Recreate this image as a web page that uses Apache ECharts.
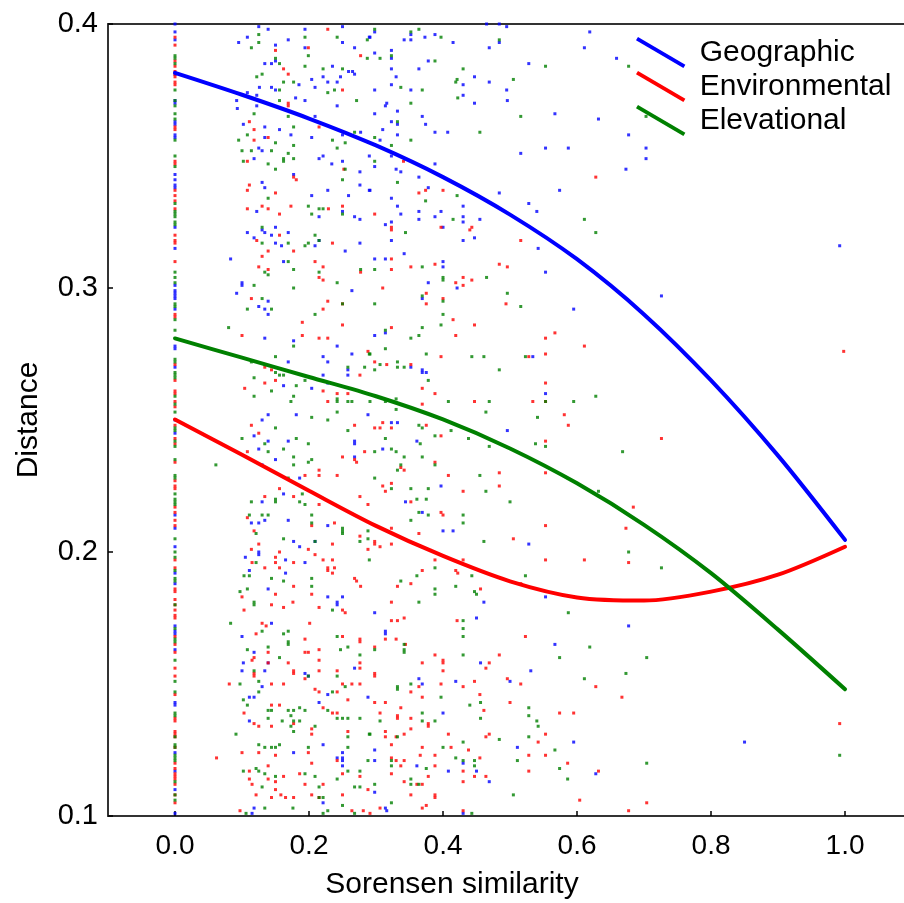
<!DOCTYPE html>
<html><head><meta charset="utf-8">
<script src="https://cdn.jsdelivr.net/npm/echarts@6/dist/echarts.min.js"></script>
<style>html,body{margin:0;padding:0;background:#fff}#c{width:904px;height:903px}</style>
</head><body><div id="c"></div>
<script>
const seriesNames = ['Geographic','Environmental','Elevational'];
const seriesColors = ['#0000ff','#ff0000','#008000'];
const xTickValues = [0,0.2,0.4,0.6,0.8,1.0];
const fitX = [0,0.1,0.2,0.3,0.4,0.5,0.6,0.7,0.8,0.9,1.0];
const geographicFit = [0.3815,0.3732,0.3642,0.3540,0.3420,0.3278,0.3109,0.2900,0.2650,0.2365,0.2046];
const environmentalFit = [0.2502,0.2368,0.2232,0.2099,0.1985,0.1889,0.1828,0.1816,0.1850,0.1914,0.2020];
const elevationalFit = [0.2809,0.2736,0.2663,0.2590,0.2502,0.2392,0.2260,0.2103,0.1920,0.1706,0.1480];

const geographicZeroY = [0.400,0.397,0.394,0.381,0.371,0.370,0.363,0.362,0.358,0.357,0.343,0.341,0.339,0.338,0.323,0.315,0.301,0.299,0.298,0.297,0.296,0.292,0.278,0.277,0.270,0.250,0.245,0.214,0.209,0.202,0.192,0.188,0.172,0.170,0.169,0.163,0.143,0.142,0.124,0.117,0.110,0.101];
const environmentalZeroY = [0.395,0.392,0.386,0.384,0.382,0.381,0.380,0.378,0.377,0.361,0.360,0.348,0.347,0.337,0.335,0.333,0.330,0.320,0.318,0.317,0.310,0.290,0.289,0.271,0.265,0.261,0.260,0.257,0.255,0.248,0.243,0.241,0.234,0.227,0.225,0.224,0.217,0.215,0.212,0.210,0.197,0.194,0.186,0.185,0.182,0.180,0.178,0.176,0.175,0.168,0.165,0.162,0.156,0.153,0.146,0.137,0.136,0.132,0.131,0.130,0.126,0.120,0.118,0.116,0.115,0.114,0.112,0.108,0.105];
const elevationalZeroY = [0.388,0.387,0.385,0.375,0.371,0.369,0.366,0.364,0.356,0.350,0.346,0.332,0.329,0.328,0.327,0.325,0.324,0.306,0.304,0.302,0.294,0.293,0.288,0.284,0.273,0.272,0.268,0.267,0.266,0.259,0.256,0.253,0.247,0.246,0.242,0.240,0.235,0.229,0.228,0.222,0.220,0.219,0.218,0.205,0.200,0.198,0.193,0.190,0.189,0.180,0.171,0.167,0.166,0.159,0.151,0.147,0.139,0.138,0.130,0.127,0.126,0.123,0.122,0.121,0.113,0.108,0.106];

const geographicPts = [[0.125,0.399],[0.139,0.398],[0.194,0.398],[0.250,0.399],[0.108,0.395],[0.095,0.393],[0.169,0.394],[0.150,0.392],[0.194,0.391],[0.250,0.393],[0.268,0.391],[0.290,0.395],[0.134,0.385],[0.144,0.385],[0.150,0.386],[0.235,0.384],[0.259,0.382],[0.265,0.382],[0.268,0.381],[0.247,0.380],[0.221,0.380],[0.204,0.379],[0.228,0.378],[0.242,0.378],[0.185,0.377],[0.144,0.376],[0.150,0.375],[0.126,0.376],[0.209,0.376],[0.108,0.374],[0.122,0.373],[0.180,0.372],[0.194,0.371],[0.092,0.371],[0.093,0.368],[0.122,0.369],[0.242,0.369],[0.209,0.365],[0.102,0.362],[0.134,0.361],[0.156,0.360],[0.173,0.358],[0.134,0.357],[0.204,0.357],[0.250,0.358],[0.277,0.359],[0.125,0.353],[0.130,0.352],[0.215,0.349],[0.221,0.350],[0.118,0.349],[0.234,0.347],[0.250,0.348],[0.290,0.350],[0.276,0.344],[0.177,0.343],[0.276,0.339],[0.130,0.340],[0.134,0.338],[0.228,0.337],[0.204,0.335],[0.259,0.335],[0.290,0.337],[0.122,0.329],[0.215,0.327],[0.250,0.329],[0.268,0.327],[0.276,0.326],[0.108,0.321],[0.130,0.322],[0.134,0.321],[0.150,0.323],[0.144,0.320],[0.169,0.321],[0.118,0.319],[0.150,0.317],[0.159,0.316],[0.209,0.316],[0.215,0.318],[0.254,0.314],[0.276,0.317],[0.083,0.311],[0.162,0.310],[0.100,0.302],
[0.291,0.395],[0.298,0.397],[0.342,0.394],[0.352,0.396],[0.352,0.394],[0.373,0.395],[0.388,0.396],[0.415,0.393],[0.465,0.400],[0.484,0.400],[0.484,0.393],[0.495,0.399],[0.469,0.391],[0.619,0.397],[0.611,0.391],[0.659,0.387],[0.298,0.389],[0.323,0.390],[0.323,0.387],[0.323,0.383],[0.330,0.380],[0.364,0.383],[0.378,0.386],[0.447,0.380],[0.469,0.378],[0.528,0.385],[0.323,0.377],[0.298,0.375],[0.352,0.375],[0.430,0.377],[0.430,0.373],[0.495,0.375],[0.496,0.371],[0.316,0.370],[0.314,0.369],[0.332,0.367],[0.447,0.370],[0.298,0.366],[0.323,0.363],[0.332,0.362],[0.369,0.365],[0.374,0.362],[0.388,0.359],[0.407,0.359],[0.310,0.360],[0.306,0.356],[0.332,0.358],[0.567,0.366],[0.632,0.364],[0.677,0.358],[0.553,0.353],[0.587,0.353],[0.516,0.351],[0.323,0.350],[0.298,0.346],[0.330,0.345],[0.337,0.344],[0.388,0.347],[0.364,0.342],[0.378,0.338],[0.291,0.337],[0.673,0.345],[0.574,0.337],[0.484,0.336],[0.323,0.334],[0.430,0.331],[0.528,0.332],[0.540,0.329],[0.332,0.331],[0.337,0.328],[0.364,0.329],[0.364,0.326],[0.388,0.327],[0.397,0.329],[0.430,0.327],[0.430,0.325],[0.455,0.326],[0.314,0.324],[0.323,0.325],[0.400,0.323],[0.323,0.318],[0.430,0.318],[0.447,0.319],[0.542,0.315],[0.342,0.313],[0.298,0.311],[0.314,0.311],[0.400,0.310],[0.400,0.308],[0.378,0.302],[0.553,0.306],
[0.703,0.353],[0.703,0.349],[0.992,0.316],[0.726,0.297],[0.850,0.128],
[0.100,0.301],[0.092,0.298],[0.139,0.295],[0.125,0.293],[0.134,0.292],[0.139,0.290],[0.264,0.299],[0.134,0.281],[0.177,0.280],[0.242,0.278],[0.264,0.275],[0.221,0.274],[0.228,0.272],[0.169,0.272],[0.258,0.269],[0.258,0.267],[0.221,0.267],[0.228,0.264],[0.162,0.263],[0.204,0.262],[0.288,0.252],[0.139,0.252],[0.130,0.250],[0.181,0.252],[0.118,0.244],[0.169,0.242],[0.139,0.242],[0.268,0.242],[0.268,0.241],[0.125,0.239],[0.150,0.235],[0.268,0.236],[0.130,0.233],[0.186,0.228],[0.162,0.222],[0.130,0.219],[0.114,0.211],[0.125,0.211],[0.134,0.212],[0.169,0.212],[0.228,0.210],[0.177,0.204],[0.186,0.202],[0.209,0.204],[0.125,0.200],
[0.369,0.296],[0.421,0.300],[0.595,0.292],[0.298,0.282],[0.314,0.283],[0.369,0.269],[0.369,0.268],[0.375,0.268],[0.352,0.270],[0.534,0.274],[0.553,0.260],[0.496,0.246],[0.332,0.249],[0.323,0.249],[0.361,0.242],[0.310,0.239],[0.397,0.225],[0.344,0.219],[0.369,0.215],[0.400,0.208],[0.415,0.208],[0.528,0.203],
[0.105,0.198],[0.125,0.199],[0.165,0.197],[0.111,0.193],[0.165,0.192],[0.194,0.196],[0.139,0.186],[0.228,0.183],[0.242,0.181],[0.242,0.180],[0.250,0.183],[0.144,0.173],[0.100,0.168],[0.118,0.162],[0.102,0.158],[0.100,0.155],[0.134,0.155],[0.139,0.158],[0.194,0.154],[0.199,0.153],[0.268,0.156],[0.130,0.149],[0.228,0.146],[0.111,0.145],[0.118,0.145],[0.215,0.143],[0.288,0.145],[0.111,0.136],[0.221,0.127],[0.177,0.124],[0.250,0.124],[0.242,0.122],[0.250,0.122],[0.250,0.121],[0.250,0.119],[0.221,0.105],[0.118,0.103],[0.115,0.101],
[0.298,0.177],[0.314,0.170],[0.314,0.169],[0.461,0.181],[0.450,0.175],[0.553,0.183],[0.677,0.172],[0.567,0.165],[0.456,0.158],[0.531,0.155],[0.364,0.152],[0.369,0.150],[0.419,0.151],[0.500,0.151],[0.400,0.139],[0.298,0.125],[0.298,0.121],[0.361,0.119],[0.408,0.117],[0.430,0.120],[0.450,0.117],[0.469,0.113],[0.511,0.126],[0.595,0.128],[0.628,0.116],[0.298,0.109],[0.314,0.103],[0.316,0.102],[0.430,0.101]];

const environmentalPts = [[0.228,0.398],[0.150,0.390],[0.199,0.391],[0.277,0.388],[0.162,0.383],[0.169,0.381],[0.250,0.375],[0.169,0.370],[0.169,0.369],[0.111,0.363],[0.118,0.360],[0.215,0.361],[0.118,0.356],[0.139,0.357],[0.108,0.348],[0.252,0.345],[0.177,0.342],[0.181,0.341],[0.111,0.339],[0.108,0.337],[0.150,0.336],[0.130,0.331],[0.173,0.331],[0.108,0.330],[0.139,0.330],[0.156,0.328],[0.229,0.330],[0.250,0.331],[0.156,0.320],[0.122,0.318],[0.139,0.314],[0.177,0.314],[0.235,0.317],[0.130,0.312],[0.125,0.308],[0.139,0.307],[0.209,0.310],[0.221,0.308],[0.215,0.304],[0.221,0.303],[0.277,0.306],
[0.341,0.348],[0.628,0.342],[0.364,0.336],[0.374,0.337],[0.400,0.337],[0.298,0.328],[0.323,0.323],[0.323,0.322],[0.397,0.323],[0.440,0.322],[0.443,0.323],[0.516,0.318],[0.323,0.311],[0.323,0.307],[0.352,0.308],[0.388,0.309],[0.484,0.309],[0.496,0.308],[0.430,0.304],[0.419,0.302],[0.443,0.303],
[0.998,0.276],[0.726,0.243],[0.992,0.135],[0.704,0.105],
[0.114,0.296],[0.228,0.295],[0.250,0.294],[0.221,0.292],[0.190,0.287],[0.250,0.286],[0.100,0.282],[0.190,0.282],[0.215,0.281],[0.228,0.281],[0.288,0.276],[0.134,0.270],[0.144,0.269],[0.276,0.267],[0.150,0.265],[0.134,0.264],[0.104,0.262],[0.221,0.261],[0.228,0.257],[0.242,0.260],[0.258,0.260],[0.114,0.248],[0.125,0.245],[0.268,0.248],[0.283,0.238],[0.108,0.238],[0.250,0.236],[0.268,0.235],[0.271,0.234],[0.215,0.231],[0.194,0.229],[0.215,0.229],[0.242,0.229],[0.156,0.224],[0.177,0.221],[0.134,0.221],[0.215,0.218],[0.276,0.221],[0.288,0.218],[0.108,0.213],[0.118,0.208],[0.204,0.210],[0.238,0.211],[0.276,0.206],[0.288,0.201],[0.114,0.201],[0.125,0.203],[0.156,0.200],[0.199,0.201],[0.235,0.203],
[0.310,0.300],[0.375,0.298],[0.430,0.301],[0.400,0.296],[0.375,0.294],[0.494,0.294],[0.415,0.288],[0.447,0.286],[0.323,0.285],[0.419,0.282],[0.567,0.283],[0.553,0.281],[0.611,0.278],[0.397,0.274],[0.528,0.274],[0.553,0.275],[0.298,0.272],[0.316,0.271],[0.352,0.271],[0.553,0.264],[0.369,0.262],[0.388,0.260],[0.447,0.257],[0.369,0.256],[0.534,0.257],[0.553,0.257],[0.581,0.252],[0.587,0.248],[0.310,0.249],[0.298,0.247],[0.306,0.247],[0.323,0.247],[0.375,0.248],[0.397,0.244],[0.553,0.242],[0.388,0.234],[0.337,0.232],[0.342,0.231],[0.408,0.229],[0.484,0.230],[0.553,0.230],[0.310,0.225],[0.314,0.223],[0.323,0.226],[0.484,0.225],[0.430,0.223],[0.352,0.219],[0.397,0.215],[0.400,0.214],[0.684,0.217],[0.673,0.209],[0.323,0.209],[0.553,0.210],[0.364,0.207],[0.505,0.205],[0.323,0.203],[0.298,0.204],[0.298,0.203],[0.306,0.202],
[0.115,0.196],[0.134,0.194],[0.150,0.198],[0.150,0.196],[0.156,0.194],[0.177,0.196],[0.209,0.199],[0.221,0.197],[0.235,0.197],[0.228,0.194],[0.228,0.193],[0.238,0.194],[0.235,0.192],[0.268,0.190],[0.271,0.189],[0.277,0.187],[0.100,0.183],[0.150,0.184],[0.177,0.187],[0.176,0.181],[0.144,0.180],[0.162,0.179],[0.204,0.184],[0.215,0.179],[0.250,0.178],[0.254,0.177],[0.103,0.178],[0.130,0.173],[0.136,0.172],[0.121,0.169],[0.201,0.173],[0.194,0.167],[0.250,0.168],[0.276,0.167],[0.276,0.166],[0.215,0.163],[0.194,0.162],[0.199,0.162],[0.118,0.160],[0.139,0.162],[0.115,0.159],[0.139,0.158],[0.169,0.158],[0.215,0.159],[0.276,0.158],[0.118,0.154],[0.118,0.153],[0.177,0.155],[0.177,0.154],[0.215,0.155],[0.242,0.155],[0.276,0.156],[0.194,0.152],[0.081,0.150],[0.144,0.150],[0.162,0.150],[0.250,0.150],[0.264,0.150],[0.276,0.150],[0.209,0.148],[0.215,0.147],[0.242,0.147],[0.258,0.144],[0.103,0.139],[0.144,0.142],[0.156,0.142],[0.221,0.141],[0.235,0.139],[0.242,0.139],[0.118,0.135],[0.125,0.134],[0.144,0.134],[0.177,0.135],[0.204,0.133],[0.204,0.131],[0.258,0.132],[0.062,0.122],[0.100,0.124],[0.125,0.124],[0.150,0.123],[0.199,0.124],[0.204,0.120],[0.242,0.121],[0.139,0.119],[0.111,0.117],[0.186,0.116],[0.111,0.114],[0.115,0.112],[0.139,0.114],[0.150,0.113],[0.162,0.115],[0.194,0.112],[0.221,0.112],[0.250,0.116],[0.276,0.115],[0.288,0.110],[0.150,0.110],[0.121,0.108],[0.144,0.107],[0.158,0.108],[0.165,0.107],[0.177,0.107],[0.204,0.108],[0.215,0.107],[0.250,0.108],[0.264,0.102],[0.097,0.102],[0.281,0.102],
[0.388,0.197],[0.430,0.197],[0.553,0.197],[0.611,0.197],[0.677,0.196],[0.369,0.193],[0.419,0.193],[0.422,0.192],[0.332,0.187],[0.352,0.188],[0.456,0.186],[0.516,0.188],[0.323,0.181],[0.323,0.174],[0.332,0.174],[0.342,0.175],[0.421,0.174],[0.523,0.168],[0.314,0.167],[0.330,0.167],[0.344,0.165],[0.298,0.164],[0.388,0.161],[0.369,0.158],[0.400,0.159],[0.400,0.158],[0.400,0.155],[0.469,0.158],[0.484,0.161],[0.464,0.156],[0.298,0.154],[0.298,0.153],[0.364,0.149],[0.352,0.147],[0.397,0.150],[0.447,0.151],[0.496,0.152],[0.516,0.150],[0.628,0.149],[0.667,0.145],[0.369,0.145],[0.430,0.149],[0.455,0.146],[0.500,0.143],[0.298,0.143],[0.314,0.143],[0.337,0.141],[0.461,0.140],[0.306,0.139],[0.332,0.138],[0.332,0.137],[0.574,0.139],[0.595,0.139],[0.352,0.137],[0.352,0.133],[0.378,0.135],[0.378,0.134],[0.314,0.132],[0.314,0.130],[0.330,0.130],[0.342,0.131],[0.408,0.131],[0.464,0.130],[0.469,0.131],[0.553,0.131],[0.542,0.128],[0.323,0.127],[0.369,0.126],[0.412,0.126],[0.438,0.125],[0.366,0.123],[0.388,0.123],[0.455,0.122],[0.528,0.123],[0.553,0.123],[0.586,0.120],[0.323,0.122],[0.342,0.121],[0.330,0.121],[0.337,0.119],[0.388,0.119],[0.430,0.117],[0.528,0.117],[0.632,0.117],[0.323,0.116],[0.378,0.115],[0.447,0.115],[0.464,0.115],[0.342,0.113],[0.361,0.112],[0.369,0.112],[0.430,0.113],[0.352,0.108],[0.388,0.108],[0.388,0.107],[0.375,0.104],[0.369,0.103],[0.306,0.103],[0.604,0.106],[0.677,0.102],[0.430,0.102],[0.291,0.101]];

const elevationalPts = [[0.125,0.396],[0.114,0.391],[0.125,0.393],[0.194,0.395],[0.242,0.395],[0.287,0.394],[0.287,0.387],[0.150,0.387],[0.156,0.385],[0.199,0.388],[0.194,0.384],[0.221,0.383],[0.250,0.383],[0.122,0.380],[0.130,0.381],[0.162,0.378],[0.177,0.378],[0.156,0.375],[0.228,0.374],[0.238,0.375],[0.271,0.371],[0.156,0.371],[0.118,0.366],[0.169,0.365],[0.177,0.361],[0.108,0.358],[0.095,0.356],[0.150,0.355],[0.235,0.356],[0.254,0.355],[0.268,0.359],[0.177,0.354],[0.100,0.352],[0.114,0.352],[0.144,0.352],[0.169,0.351],[0.162,0.349],[0.177,0.349],[0.242,0.353],[0.102,0.348],[0.139,0.347],[0.162,0.348],[0.254,0.345],[0.150,0.345],[0.250,0.341],[0.139,0.334],[0.199,0.331],[0.204,0.328],[0.215,0.330],[0.221,0.330],[0.250,0.328],[0.130,0.323],[0.209,0.320],[0.215,0.318],[0.130,0.317],[0.169,0.317],[0.194,0.316],[0.199,0.317],[0.169,0.310],[0.134,0.306],[0.139,0.305],[0.177,0.307],[0.215,0.306],[0.242,0.302],[0.277,0.307],
[0.298,0.398],[0.352,0.397],[0.364,0.398],[0.397,0.395],[0.484,0.394],[0.306,0.387],[0.323,0.388],[0.388,0.386],[0.430,0.383],[0.553,0.384],[0.677,0.384],[0.421,0.379],[0.419,0.378],[0.505,0.379],[0.337,0.376],[0.369,0.375],[0.422,0.372],[0.352,0.370],[0.516,0.365],[0.332,0.363],[0.455,0.359],[0.298,0.357],[0.323,0.354],[0.352,0.356],[0.298,0.348],[0.332,0.340],[0.421,0.335],[0.374,0.333],[0.415,0.326],[0.611,0.326],[0.628,0.321],[0.344,0.321],[0.298,0.307],[0.369,0.308],[0.400,0.304],[0.400,0.303],[0.465,0.304],
[0.703,0.365],[0.726,0.194],[0.704,0.160],[0.992,0.123],[0.704,0.120],
[0.118,0.301],[0.177,0.300],[0.130,0.296],[0.144,0.292],[0.108,0.292],[0.250,0.294],[0.209,0.290],[0.080,0.285],[0.177,0.278],[0.290,0.275],[0.150,0.274],[0.114,0.272],[0.258,0.270],[0.162,0.267],[0.156,0.267],[0.150,0.268],[0.181,0.263],[0.194,0.265],[0.283,0.270],[0.118,0.266],[0.144,0.261],[0.177,0.259],[0.118,0.259],[0.173,0.257],[0.242,0.258],[0.242,0.257],[0.258,0.257],[0.264,0.257],[0.242,0.253],[0.228,0.250],[0.204,0.251],[0.150,0.247],[0.258,0.246],[0.100,0.243],[0.134,0.241],[0.181,0.243],[0.199,0.241],[0.139,0.238],[0.162,0.239],[0.177,0.236],[0.177,0.233],[0.199,0.234],[0.204,0.235],[0.061,0.233],[0.169,0.228],[0.190,0.222],[0.150,0.220],[0.150,0.219],[0.114,0.219],[0.186,0.219],[0.194,0.218],[0.111,0.214],[0.130,0.214],[0.139,0.214],[0.204,0.214],[0.250,0.209],[0.250,0.208],[0.250,0.207],[0.121,0.207],[0.204,0.211],[0.288,0.208],[0.162,0.205],[0.209,0.204],[0.276,0.204],[0.288,0.205],
[0.298,0.294],[0.369,0.297],[0.400,0.295],[0.496,0.298],[0.516,0.293],[0.400,0.290],[0.397,0.286],[0.369,0.285],[0.314,0.284],[0.352,0.281],[0.364,0.282],[0.314,0.277],[0.291,0.275],[0.375,0.275],[0.443,0.274],[0.461,0.274],[0.523,0.274],[0.306,0.271],[0.332,0.272],[0.332,0.270],[0.342,0.270],[0.298,0.269],[0.484,0.269],[0.378,0.265],[0.595,0.257],[0.628,0.259],[0.408,0.257],[0.469,0.257],[0.464,0.253],[0.553,0.257],[0.291,0.257],[0.330,0.258],[0.314,0.257],[0.330,0.254],[0.541,0.251],[0.369,0.247],[0.364,0.248],[0.412,0.246],[0.388,0.244],[0.438,0.243],[0.314,0.243],[0.366,0.241],[0.469,0.240],[0.538,0.241],[0.553,0.240],[0.668,0.238],[0.298,0.238],[0.323,0.239],[0.330,0.238],[0.342,0.236],[0.369,0.236],[0.337,0.233],[0.332,0.231],[0.388,0.233],[0.455,0.229],[0.298,0.228],[0.323,0.224],[0.352,0.224],[0.378,0.224],[0.464,0.223],[0.632,0.223],[0.361,0.220],[0.375,0.220],[0.500,0.219],[0.352,0.212],[0.364,0.215],[0.378,0.214],[0.430,0.214],[0.430,0.211],[0.461,0.204],[0.677,0.200],
[0.121,0.196],[0.103,0.191],[0.111,0.191],[0.144,0.190],[0.162,0.189],[0.204,0.190],[0.204,0.187],[0.097,0.185],[0.108,0.186],[0.118,0.181],[0.118,0.180],[0.235,0.178],[0.290,0.197],[0.083,0.173],[0.130,0.170],[0.162,0.169],[0.169,0.170],[0.169,0.166],[0.169,0.165],[0.242,0.168],[0.258,0.164],[0.247,0.163],[0.139,0.164],[0.108,0.163],[0.156,0.160],[0.276,0.161],[0.118,0.155],[0.242,0.153],[0.199,0.153],[0.097,0.150],[0.125,0.151],[0.254,0.149],[0.235,0.147],[0.125,0.147],[0.102,0.144],[0.108,0.142],[0.139,0.140],[0.144,0.140],[0.169,0.140],[0.177,0.140],[0.186,0.141],[0.194,0.140],[0.228,0.140],[0.242,0.137],[0.250,0.137],[0.258,0.137],[0.276,0.137],[0.139,0.137],[0.160,0.136],[0.173,0.138],[0.177,0.136],[0.186,0.136],[0.173,0.134],[0.177,0.132],[0.209,0.134],[0.258,0.130],[0.290,0.131],[0.091,0.131],[0.125,0.127],[0.134,0.126],[0.144,0.126],[0.150,0.126],[0.156,0.127],[0.199,0.126],[0.258,0.126],[0.288,0.121],[0.102,0.117],[0.121,0.118],[0.125,0.117],[0.134,0.116],[0.194,0.116],[0.209,0.115],[0.242,0.114],[0.258,0.117],[0.276,0.117],[0.150,0.115],[0.130,0.111],[0.215,0.111],[0.268,0.111],[0.276,0.111],[0.176,0.103],[0.134,0.103],[0.106,0.101],[0.221,0.101],[0.228,0.102],[0.250,0.104],[0.268,0.101],[0.215,0.107],[0.221,0.107],
[0.388,0.194],[0.361,0.191],[0.337,0.189],[0.443,0.191],[0.523,0.191],[0.388,0.186],[0.388,0.184],[0.419,0.187],[0.447,0.185],[0.450,0.184],[0.364,0.181],[0.587,0.177],[0.430,0.174],[0.430,0.171],[0.430,0.168],[0.342,0.165],[0.298,0.163],[0.342,0.163],[0.342,0.162],[0.619,0.164],[0.574,0.160],[0.430,0.161],[0.673,0.154],[0.611,0.152],[0.352,0.150],[0.332,0.149],[0.332,0.148],[0.397,0.145],[0.440,0.142],[0.456,0.143],[0.528,0.141],[0.369,0.139],[0.456,0.137],[0.528,0.138],[0.540,0.136],[0.542,0.134],[0.306,0.136],[0.369,0.136],[0.388,0.136],[0.291,0.131],[0.332,0.130],[0.400,0.126],[0.484,0.129],[0.528,0.130],[0.567,0.125],[0.419,0.122],[0.430,0.128],[0.323,0.121],[0.323,0.119],[0.375,0.118],[0.430,0.121],[0.447,0.121],[0.447,0.119],[0.511,0.121],[0.574,0.118],[0.586,0.114],[0.352,0.114],[0.352,0.112],[0.364,0.112],[0.298,0.112],[0.505,0.108],[0.323,0.105],[0.443,0.101]];

const FONT = '"Liberation Sans", Arial, sans-serif';
const fits = [geographicFit, environmentalFit, elevationalFit];
const clouds = [geographicPts, environmentalPts, elevationalPts];
const zeroCols = [geographicZeroY, environmentalZeroY, elevationalZeroY];

const series = [];
for (let i = 0; i < 3; i++) {
  series.push({
    name: seriesNames[i] + ' points', type: 'scatter', symbol: 'rect', symbolSize: 3,
    itemStyle: { color: seriesColors[i] }, silent: true, z: 2,
    data: clouds[i].concat(zeroCols[i].map(y => [0, y]))
  });
}
for (let i = 0; i < 3; i++) {
  series.push({
    name: seriesNames[i], type: 'line', smooth: 0.3, symbol: 'none', showSymbol: false,
    lineStyle: { color: seriesColors[i], width: 4, cap: 'round' },
    itemStyle: { color: seriesColors[i] }, silent: true, z: 5,
    data: fitX.map((x, k) => [x, fits[i][k]])
  });
}

const X_MIN = -0.1, X_MAX = 1.088;
const chart = echarts.init(document.getElementById('c'), null, { renderer: 'canvas' });
chart.setOption({
  animation: false,
  backgroundColor: '#ffffff',
  textStyle: { fontFamily: FONT },
  grid: { left: 108, right: 0, top: 24, bottom: 87, show: false, containLabel: false, outerBoundsMode: 'none' },
  legend: {
    data: seriesNames, left: 631, top: 32, orient: 'vertical',
    icon: 'path://M1,-1.7 L49,26.3 L47,29.7 L-1,1.7 Z',
    itemWidth: 50, itemHeight: 31, itemGap: 3,
    itemStyle: { borderWidth: 0 },
    textStyle: { fontFamily: FONT, fontSize: 30, color: '#000', padding: [0, 0, 0, 9], lineHeight: 31 },
    selectedMode: false
  },
  xAxis: [{
    type: 'value', min: X_MIN, max: X_MAX,
    name: 'Sorensen similarity', nameLocation: 'middle', nameGap: 54,
    nameTextStyle: { fontFamily: FONT, fontSize: 30, color: '#000', padding: [0, 108, 0, 0] },
    axisLine: { show: true, onZero: false, lineStyle: { color: '#333', width: 2 } },
    axisTick: { show: true, inside: true, length: 5, customValues: xTickValues, lineStyle: { color: '#000', width: 1.5 } },
    axisLabel: { customValues: xTickValues, formatter: v => v.toFixed(1), fontFamily: FONT, fontSize: 28, color: '#000', margin: 16 },
    splitLine: { show: false }
  }, {
    type: 'value', min: X_MIN, max: X_MAX, position: 'top',
    axisLine: { show: true, onZero: false, lineStyle: { color: '#333', width: 2 } },
    axisTick: { show: false }, axisLabel: { show: false }, splitLine: { show: false }
  }],
  yAxis: {
    type: 'value', min: 0.1, max: 0.4, interval: 0.1,
    name: 'Distance', nameLocation: 'middle', nameGap: 64, nameRotate: 90,
    nameTextStyle: { fontFamily: FONT, fontSize: 30, color: '#000' },
    axisLine: { show: true, onZero: false, lineStyle: { color: '#333', width: 2 } },
    axisTick: { show: true, inside: true, length: 5, lineStyle: { color: '#000', width: 1.5 } },
    axisLabel: { formatter: v => v.toFixed(1), fontFamily: FONT, fontSize: 29, color: '#000', margin: 10 },
    splitLine: { show: false }
  },
  tooltip: { show: false },
  series: series
});
</script>
</body></html>
